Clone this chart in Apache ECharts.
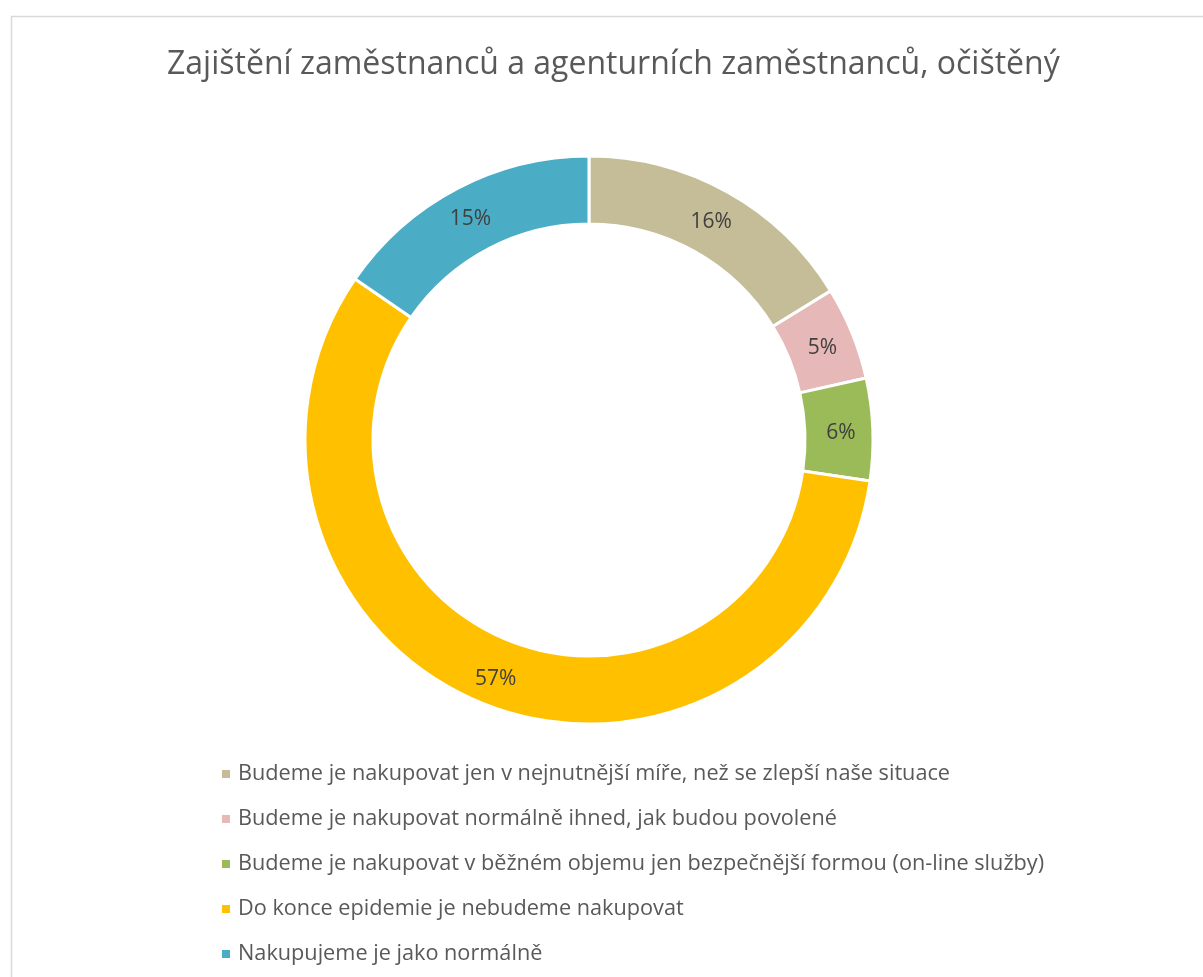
<!DOCTYPE html>
<html>
<head>
<meta charset="utf-8">
<script src="https://cdn.jsdelivr.net/npm/echarts@6/dist/echarts.min.js"></script>
<style>
  html, body { margin: 0; padding: 0; background: #fff; }
  #chart { width: 1203px; height: 977px; }
</style>
</head>
<body>
<div id="chart"></div>
<script>
  // ===== 数据 =====
  const titleText = "Zajištění zaměstnanců a agenturních zaměstnanců, očištěný";
  const categories = [
    "Budeme je nakupovat jen v nejnutnější míře, než se zlepší naše situace",
    "Budeme je nakupovat normálně ihned, jak budou povolené",
    "Budeme je nakupovat v běžném objemu jen bezpečnější formou (on-line služby)",
    "Do konce epidemie je nebudeme nakupovat",
    "Nakupujeme je jako normálně"
  ];
  const values = [16.2, 5.3, 5.8, 57.3, 15.4];
  const colors = ["#C4BD97", "#E6B9B8", "#9BBB59", "#FFC000", "#4BACC6"];

  const FONT = "'Open Sans', 'Noto Sans', sans-serif";

  const chart = echarts.init(document.getElementById("chart"));
  chart.setOption({
    animation: false,
    title: {
      text: titleText, left: 162, top: 44,
      textStyle: { fontFamily: FONT, fontSize: 32, fontWeight: "normal", color: "#595959" }
    },
    graphic: [{
      type: "rect", left: 9, top: 14, silent: true,
      shape: { width: 1300, height: 1100 },
      style: { fill: "none", stroke: "#d9d9d9", lineWidth: 1.5 }
    }],
    legend: {
      orient: "vertical", left: 215, top: 758,
      itemWidth: 10, itemHeight: 10, itemGap: 23,
      icon: "rect",
      textStyle: { fontFamily: FONT, fontSize: 21.7, color: "#595959", padding: [0, 0, 0, 2] },
      data: categories
    },
    series: [{
      type: "pie",
      center: [589, 440],
      radius: [216, 284],
      startAngle: 90,
      clockwise: true,
      percentPrecision: 1,
      avoidLabelOverlap: false,
      itemStyle: { borderColor: "#fff", borderWidth: 3 },
      label: {
        position: "inside",
        offset: [-1, 3],
        fontFamily: FONT, fontSize: 21, color: "#404040",
        formatter: p => Math.round(p.percent) + "%"
      },
      labelLine: { show: false },
      emphasis: { disabled: true },
      data: categories.map((c, i) => ({ name: c, value: values[i], itemStyle: { color: colors[i] } }))
    }]
  });
</script>
</body>
</html>
